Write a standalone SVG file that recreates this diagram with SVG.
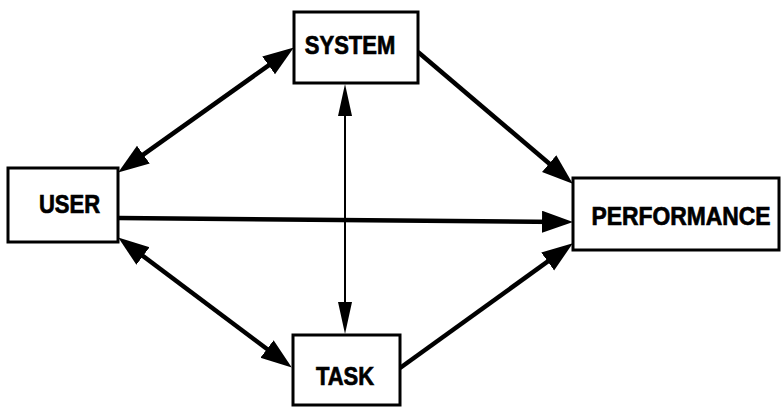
<svg xmlns="http://www.w3.org/2000/svg" width="781" height="408" viewBox="0 0 781 408">
  <style>
    .box { fill: #fff; stroke: #000; stroke-width: 3; }
    .lbl { font-family: "Liberation Sans", Arial, sans-serif; font-weight: bold; font-size: 22px; fill: #000; stroke: #000; stroke-width: 0.6; text-anchor: middle; }
    .thick { stroke: #000; stroke-width: 4.5; fill: none; }
    .thin { stroke: #000; stroke-width: 2; fill: none; }
  </style>
  <defs>
    <!-- filled heads for the heavy connectors -->
    <marker id="head" markerUnits="userSpaceOnUse" markerWidth="32" markerHeight="24" refX="20" refY="11" orient="auto-start-reverse" viewBox="0 0 32 24">
      <path d="M0,0 L31,11 L0,22 Z" fill="#000"/>
    </marker>
    <!-- narrower heads for the thin vertical connector -->
    <marker id="headThin" markerUnits="userSpaceOnUse" markerWidth="32" markerHeight="16" refX="22" refY="7" orient="auto-start-reverse" viewBox="0 0 32 16">
      <path d="M0,0 L32,7 L0,14 Z" fill="#000"/>
    </marker>
  </defs>

  <g id="connectors">
    <line class="thick" x1="127.1" y1="166.2" x2="284.9" y2="53.8" marker-start="url(#head)" marker-end="url(#head)"/>
    <line class="thick" x1="127" y1="244" x2="283" y2="361" marker-start="url(#head)" marker-end="url(#head)"/>
    <line class="thick" x1="119" y1="218" x2="562" y2="221.9" marker-end="url(#head)"/>
    <line class="thick" x1="418" y1="52" x2="564.4" y2="176.5" marker-end="url(#head)"/>
    <line class="thick" x1="400" y1="368" x2="563.9" y2="249.8" marker-end="url(#head)"/>
    <line class="thin" x1="345" y1="94" x2="345" y2="324" marker-start="url(#headThin)" marker-end="url(#headThin)"/>
  </g>

  <g id="user">
    <rect class="box" x="8" y="168" width="110" height="74"/>
    <text class="lbl" transform="translate(69.5,213) scale(1,1.15)">USER</text>
  </g>
  <g id="system">
    <rect class="box" x="294" y="12" width="124" height="71"/>
    <text class="lbl" transform="translate(350,54) scale(1,1.15)">SYSTEM</text>
  </g>
  <g id="task">
    <rect class="box" x="293" y="335" width="107" height="70"/>
    <text class="lbl" transform="translate(345,385) scale(1,1.15)">TASK</text>
  </g>
  <g id="performance">
    <rect class="box" x="573" y="178" width="206" height="72"/>
    <text class="lbl" transform="translate(681,225) scale(1.04,1.15)">PERFORMANCE</text>
  </g>
</svg>
